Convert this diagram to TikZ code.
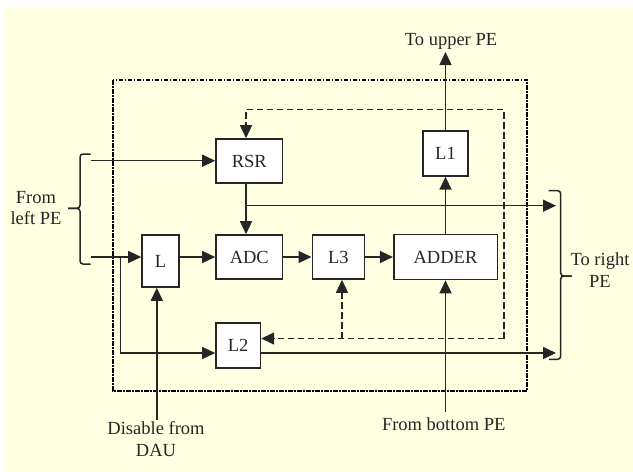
\documentclass[tikz,border=0pt]{standalone}
\usepackage{fontspec}
\setmainfont{Liberation Serif}
\usetikzlibrary{arrows.meta, positioning, calc}
\definecolor{bgc}{HTML}{FFFFE2}
\definecolor{inkc}{HTML}{262626}

\begin{document}
\begin{tikzpicture}[x=1pt, y=-1pt, >={Triangle[length=13pt,width=12pt]},
      line width=1.5pt, color=inkc,
      font=\fontsize{18.5}{21.5}\selectfont,
      blk/.style={draw=inkc, fill=white, line width=1.6pt, inner sep=0pt},
      ctl/.style={dash pattern=on 6.5pt off 3.5pt},
      frame/.style={draw=black, line width=2pt,
                    dash pattern=on 4.5pt off 1.5pt on 1.5pt off 1.5pt},
      brc/.style={rounded corners=3pt},
      lbl/.style={inner sep=0pt, text=black!85}]
    \useasboundingbox (0,0) rectangle (633,472);
    \fill[bgc] (4,7) rectangle (633,472);
    \draw[frame] (112.5,80) rectangle (527.3,390.5);
    % blocks
    \node[blk, minimum width=66.6pt, minimum height=44pt] (rsr) at (249.3,161) {RSR};
    \node[blk, minimum width=66.6pt, minimum height=44pt] (adc) at (249.3,257) {ADC};
    \node[blk, minimum width=37pt, minimum height=52pt] (lat) at (160.5,261) {L};
    \node[blk, minimum width=52pt, minimum height=44pt] (lthree) at (338.3,257) {L3};
    \node[blk, minimum width=103.6pt, minimum height=45pt] (adder) at (445.5,257) {ADDER};
    \node[blk, minimum width=44.7pt, minimum height=44.7pt] (lone) at (445.5,153.5) {L1};
    \node[blk, minimum width=44.4pt, minimum height=45pt] (ltwo) at (238.2,345.5) {L2};
    % labels
    \node[lbl, anchor=base] (upTxt) at (451,45) {To upper PE};
    \node[lbl, anchor=base] (botTxt) at (443.7,430) {From bottom PE};
    \node[lbl, align=center] (dauTxt) at (156,439.2) {Disable from\\DAU};
    \node[lbl, align=center] (leftTxt) at (36,208) {From\\left PE};
    \node[lbl, align=center] (rightTxt) at (600,270.2) {To right\\PE};
    % free ends
    \coordinate (inA) at (90.7,160.7);
    \coordinate (inB) at (90.7,257);
    \coordinate (tap) at (120.3,257);
    \coordinate (lowrow) at (0,353);
    \coordinate (split) at (246,205.7);
    \coordinate (rOutA) at (556,205.7);
    \coordinate (rOutB) at (556,353);
    \coordinate (upTip) at (445.5,52);
    \coordinate (botIn) at (445.5,412);
    \coordinate (dauIn) at (156.8,420);
    \coordinate (cBR) at (504,338.5);
    \coordinate (cTR) at (504,109.3);
    \coordinate (cTL) at (246,109.3);
    \coordinate (cMid) at (342,338.5);
    % data paths
    \draw[->] (inA) -- (rsr.west |- inA);
    \draw[->] (inB) -- (lat.west |- inB);
    \draw[->] (tap) |- (ltwo.west |- lowrow);
    \draw[->] (lat.east |- adc) -- (adc);
    \draw[->] (rsr.south -| split) -- (adc.north -| split);
    \draw[->] (split) -- (rOutA);
    \draw[->] (adc) -- (lthree);
    \draw[->] (lthree) -- (adder);
    \draw[->] (adder) -- (lone);
    \draw[->] (lone) -- (upTip);
    \draw[->] (botIn) -- (adder);
    \draw[->] (dauIn) -- (dauIn |- lat.south);
    \draw[->] (ltwo.east |- lowrow) -- (rOutB);
    % control loop
    \draw[ctl,->] (cBR) -- (cTR) -- (cTL) -- (cTL |- rsr.north);
    \draw[ctl,->] (cBR) -- (ltwo.east |- cBR);
    \draw[ctl,->] (cMid) -- (cMid |- lthree.south);
    % braces
    \draw[brc] (90.7,154) -- (80,154) -- (80,208.3) -- (68,208.3);
    \draw[brc] (68,208.3) -- (80,208.3) -- (80,264) -- (90.7,264);
    \draw[brc] (548.5,190.7) -- (560.7,190.7) -- (560.7,276) -- (571.7,276);
    \draw[brc] (571.7,276) -- (560.7,276) -- (560.7,359.3) -- (549,359.3);
  \end{tikzpicture}
\end{document}
